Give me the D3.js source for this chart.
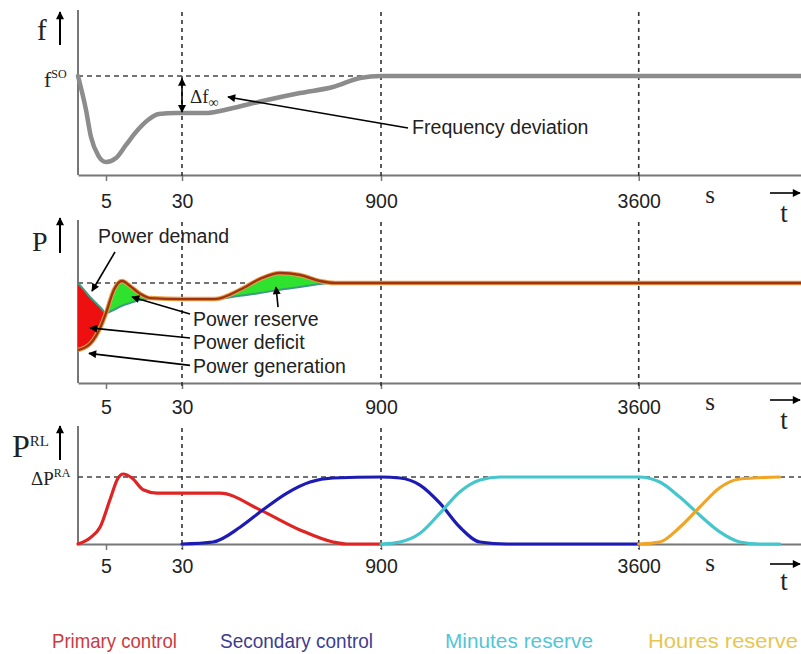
<!DOCTYPE html>
<html><head><meta charset="utf-8">
<script src="https://cdn.jsdelivr.net/npm/d3@7"></script>
<style>body{margin:0;background:#fff}svg{display:block}</style>
</head><body><svg id="c" width="801" height="654"></svg>
<script>
// ---------- data ----------
const tickValues = [5, 30, 900, 3600];
const tickLabels = ["5", "30", "900", "3600"];
const markerTimes = [30, 900, 3600];

// frequency (0 = f^SO, -1 = deepest dip)
const freqTime  = [0, 1.43, 2.32, 3.57, 5, 8.29, 11.58, 14.87, 18.8, 22.4, 28, 135, 196, 253, 401.6, 546, 690, 808, 900, 5300];
const freqValue = [0, -0.395, -0.71, -0.919, -1.0, -0.953, -0.802, -0.651, -0.512, -0.442, -0.43, -0.43, -0.407, -0.372, -0.279, -0.198, -0.128, -0.023, 0, 0];

// power (0 = nominal demand)
const powerTime       = [0, 1.07, 2.14, 3.21, 4.11, 5, 7.63, 10.26, 12.9, 16.2, 19.5, 30, 174, 284, 371, 458, 546, 633, 699, 900, 5300];
const powerDemand     = [0, -0.104, -0.209, -0.299, -0.373, -0.448, -0.40, -0.34, -0.30, -0.254, -0.24, -0.24, -0.24, -0.19, -0.15, -0.10, -0.06, -0.015, 0, 0, 0];
const powerGeneration = [-1, -0.97, -0.91, -0.79, -0.64, -0.448, -0.10, 0.03, -0.045, -0.16, -0.225, -0.24, -0.24, -0.10, 0.06, 0.15, 0.12, 0.03, 0, 0, 0];

// reserve activation (1 = ΔP^RA)
const primaryTime    = [0, 2.14, 3.93, 6.3, 8.95, 10.6, 13.55, 17.2, 21.8, 30, 196, 371, 546, 690, 751, 900];
const primaryValue   = [0, 0.09, 0.25, 0.66, 0.985, 1.045, 0.985, 0.81, 0.76, 0.76, 0.76, 0.51, 0.21, 0.03, 0, 0];
const secondaryTime  = [30, 165.5, 283.6, 384, 489, 590, 690, 900, 1099, 1308, 1517, 1727, 1936, 2219, 3600];
const secondaryValue = [0, 0.03, 0.25, 0.51, 0.76, 0.925, 0.985, 1, 0.985, 0.88, 0.61, 0.25, 0.03, 0, 0];
const minutesTime    = [900, 1099, 1309, 1518, 1728, 1937, 2147, 3600, 3820, 4030, 4239, 4449, 4658, 4868, 5078];
const minutesValue   = [0, 0.03, 0.16, 0.46, 0.78, 0.955, 1, 1, 0.925, 0.70, 0.43, 0.18, 0.03, 0, 0];
const houresTime     = [3600, 3820, 4030, 4239, 4449, 4658, 5078];
const houresValue    = [0, 0.03, 0.25, 0.55, 0.84, 0.97, 1.0];

const legendLabels = ["Primary control", "Secondary control", "Minutes reserve", "Houres reserve"];

// ---------- setup ----------
const svg = d3.select("#c");
const SANS = "'Liberation Sans', Arial, sans-serif";
const SERIF = "'Liberation Serif', 'Times New Roman', serif";

const x = d3.scaleLinear().domain([0, 5, 30, 900, 5300]).range([78, 106, 182, 381, 801]);
const yF = d3.scaleLinear().domain([-1, 0]).range([162, 76]);
const yP = d3.scaleLinear().domain([-1, 0]).range([350, 283]);
const yR = d3.scaleLinear().domain([0, 1]).range([544, 477]);

const defs = svg.append("defs");
defs.append("marker").attr("id", "ah").attr("viewBox", "0 0 10 10")
  .attr("refX", 9).attr("refY", 5).attr("markerWidth", 10).attr("markerHeight", 8)
  .attr("markerUnits", "userSpaceOnUse").attr("orient", "auto-start-reverse")
  .append("path").attr("d", "M0,0 L10,5 L0,10 Z").attr("fill", "#000");

const zip = (ts, vs) => ts.map((t, i) => [t, vs[i]]);

const panels = [
  { y: yF, top: 12, axisY: 175, tickBase: 208, sY: 203, tY: 222, arrY: 193, upTop: 12, upBot: 45 },
  { y: yP, top: 222, axisY: 383, tickBase: 414, sY: 410, tY: 429, arrY: 400, upTop: 218, upBot: 253 },
  { y: yR, top: 428, axisY: 544, tickBase: 573, sY: 571, tY: 590, arrY: 564, upTop: 426, upBot: 460 }
];

panels.forEach(p => {
  const g = svg.append("g");
  g.append("line").attr("x1", x(0)).attr("x2", x(0)).attr("y1", p.top - 2).attr("y2", p.axisY)
    .attr("stroke", "#777").attr("stroke-width", 2);
  const ax = d3.axisBottom(x).tickValues(tickValues).tickFormat((d, i) => tickLabels[i]).tickSize(6).tickSizeOuter(0);
  const axg = g.append("g").attr("transform", `translate(0,${p.axisY})`).call(ax);
  axg.select(".domain").attr("stroke", "#777").attr("stroke-width", 2);
  axg.selectAll(".tick line").attr("stroke", "#777").attr("stroke-width", 1.5);
  axg.selectAll(".tick text").attr("y", p.tickBase - p.axisY).attr("dy", 0)
    .attr("font-family", SANS).attr("font-size", 19.5).attr("fill", "#222");
  g.selectAll(".vm").data(markerTimes).join("line")
    .attr("x1", d => x(d)).attr("x2", d => x(d)).attr("y1", p.top).attr("y2", p.axisY + 5)
    .attr("stroke", "#333").attr("stroke-width", 1.6).attr("stroke-dasharray", "4,4");
  g.append("text").attr("x", 710).attr("y", p.sY).attr("text-anchor", "middle")
    .attr("font-family", SERIF).attr("font-size", 25).attr("fill", "#222").text("s");
  g.append("line").attr("x1", 770).attr("x2", 800).attr("y1", p.arrY).attr("y2", p.arrY)
    .attr("stroke", "#000").attr("stroke-width", 1.6).attr("marker-end", "url(#ah)");
  g.append("text").attr("x", 784).attr("y", p.tY).attr("text-anchor", "middle")
    .attr("font-family", SERIF).attr("font-size", 27).attr("fill", "#222").text("t");
  g.append("line").attr("x1", 60).attr("x2", 60).attr("y1", p.upBot).attr("y2", p.upTop)
    .attr("stroke", "#000").attr("stroke-width", 2).attr("marker-end", "url(#ah)");
});

function hdash(yv, scale) {
  svg.append("line").attr("x1", x(0)).attr("x2", x(5300)).attr("y1", scale(yv)).attr("y2", scale(yv))
    .attr("stroke", "#444").attr("stroke-width", 1.4).attr("stroke-dasharray", "5,4");
}
function arrow(t1, v1, t2, v2, scale, both) {
  const l = svg.append("line").attr("x1", x(t1)).attr("y1", scale(v1)).attr("x2", x(t2)).attr("y2", scale(v2))
    .attr("stroke", "#000").attr("stroke-width", 1.6).attr("marker-end", "url(#ah)");
  if (both) l.attr("marker-start", "url(#ah)");
}

// ---------- top panel: frequency ----------
hdash(0, yF);
const lineF = d3.line().x(d => x(d[0])).y(d => yF(d[1])).curve(d3.curveMonotoneX);
svg.append("path").attr("d", lineF(zip(freqTime, freqValue))).attr("fill", "none")
  .attr("stroke", "#8c8c8c").attr("stroke-width", 4.5).attr("stroke-linecap", "round");
arrow(30, -0.03, 30, -0.42, yF, true);
svg.append("text").attr("x", 190).attr("y", 103).attr("font-family", SERIF).attr("font-size", 19).attr("fill", "#222")
  .text("Δf").append("tspan").attr("dy", 4).attr("font-size", 14).text("∞");
arrow(1183, -0.605, 231, -0.244, yF, false);
svg.append("text").attr("x", 412).attr("y", 134).attr("font-family", SANS).attr("font-size", 19.6).attr("fill", "#222")
  .text("Frequency deviation");
svg.append("text").attr("x", 37).attr("y", 40).attr("font-family", SERIF).attr("font-size", 29).attr("fill", "#222").text("f");
svg.append("text").attr("x", 44).attr("y", 87).attr("font-family", SERIF).attr("font-size", 22).attr("fill", "#222")
  .text("f").append("tspan").attr("dy", -9).attr("font-size", 12).text("SO");

// ---------- middle panel: power ----------
hdash(0, yP);
const pData = powerTime.map((t, i) => ({ t, d: powerDemand[i], g: powerGeneration[i] }));
const areaP = d3.area().x(d => x(d.t)).y0(d => yP(d.d)).y1(d => yP(d.g)).curve(d3.curveMonotoneX);
defs.append("clipPath").attr("id", "clipRed").append("rect")
  .attr("x", x(0)).attr("y", 200).attr("width", x(5) - x(0)).attr("height", 200);
defs.append("clipPath").attr("id", "clipGreen").append("rect")
  .attr("x", x(5)).attr("y", 200).attr("width", x(5300) - x(5)).attr("height", 200);
svg.append("path").attr("d", areaP(pData)).attr("fill", "#ee1010").attr("clip-path", "url(#clipRed)");
svg.append("path").attr("d", areaP(pData)).attr("fill", "#2ee22e").attr("clip-path", "url(#clipGreen)");
const lineD = d3.line().x(d => x(d.t)).y(d => yP(d.d)).curve(d3.curveMonotoneX);
const lineG = d3.line().x(d => x(d.t)).y(d => yP(d.g)).curve(d3.curveMonotoneX);
svg.append("path").attr("d", lineD(pData)).attr("fill", "none").attr("stroke", "#3c9c80").attr("stroke-width", 2);
svg.append("path").attr("d", lineG(pData)).attr("fill", "none").attr("stroke", "#e8a048").attr("stroke-width", 4.5);
svg.append("path").attr("d", lineG(pData)).attr("fill", "none").attr("stroke", "#9e3412").attr("stroke-width", 2.4);

svg.append("text").attr("x", 32).attr("y", 251).attr("font-family", SERIF).attr("font-size", 28).attr("fill", "#222").text("P");
svg.append("text").attr("x", 98).attr("y", 243).attr("font-family", SANS).attr("font-size", 19.5).attr("fill", "#222").text("Power demand");
arrow(7.96, 0.463, 2.5, -0.119, yP);
arrow(65, -0.463, 13.55, -0.209, yP);
arrow(450, -0.36, 441, -0.06, yP);
arrow(65, -0.82, 2.14, -0.67, yP);
arrow(65, -1.23, 1.96, -1.05, yP);
const pLabels = [["Power reserve", -0.642], ["Power deficit", -0.985], ["Power generation", -1.34]];
svg.selectAll(".pl").data(pLabels).join("text")
  .attr("x", x(78)).attr("y", d => yP(d[1])).attr("font-family", SANS).attr("font-size", 19.5).attr("fill", "#222")
  .text(d => d[0]);

// ---------- bottom panel: reserves ----------
hdash(1, yR);
const lineR = d3.line().x(d => x(d[0])).y(d => yR(d[1])).curve(d3.curveMonotoneX);
const series = [
  { t: primaryTime, v: primaryValue, c: "#e02424" },
  { t: secondaryTime, v: secondaryValue, c: "#1c1cb4" },
  { t: minutesTime, v: minutesValue, c: "#45c6cc" },
  { t: houresTime, v: houresValue, c: "#f0a526" }
];
svg.selectAll(".ser").data(series).join("path")
  .attr("d", d => lineR(zip(d.t, d.v))).attr("fill", "none")
  .attr("stroke", d => d.c).attr("stroke-width", 3.2).attr("stroke-linecap", "round");

svg.append("text").attr("x", 12).attr("y", 457).attr("font-family", SERIF).attr("font-size", 32).attr("fill", "#222")
  .text("P").append("tspan").attr("dy", -11).attr("font-size", 15).text("RL");
svg.append("text").attr("x", 31).attr("y", 485).attr("font-family", SERIF).attr("font-size", 19).attr("fill", "#222")
  .text("ΔP").append("tspan").attr("dy", -8).attr("font-size", 12).text("RA");

// ---------- legend ----------
const legendColors = ["#cc3a3e", "#3d3d90", "#52c6d6", "#e6c650"];
const legendX = [52, 220, 445, 648];
const legendW = [125, 153, 148, 150];
svg.selectAll(".lg").data(legendLabels).join("text")
  .attr("x", (d, i) => legendX[i]).attr("y", 648)
  .attr("font-family", SANS).attr("font-size", 21)
  .attr("textLength", (d, i) => legendW[i]).attr("lengthAdjust", "spacingAndGlyphs")
  .attr("fill", (d, i) => legendColors[i]).text(d => d);
</script></body></html>
